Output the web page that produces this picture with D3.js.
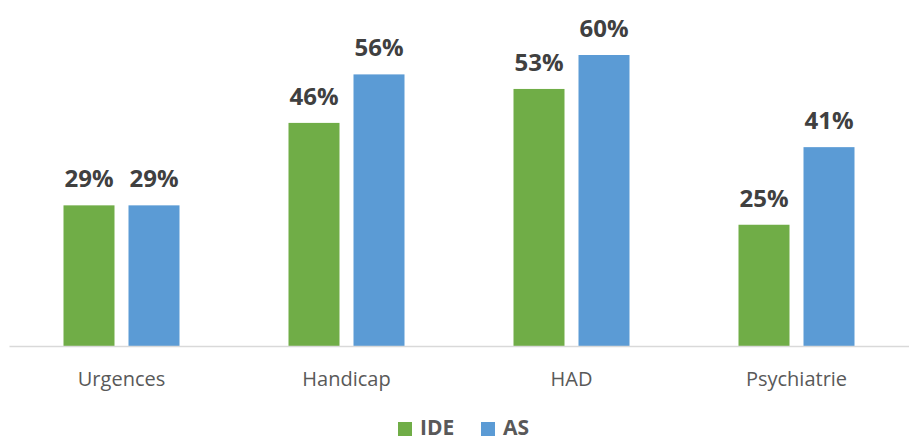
<!DOCTYPE html>
<html>
<head>
	<meta charset="utf-8">
	<title>IDE / AS</title>
	<script src="https://d3js.org/d3.v7.min.js"></script>
	<style>
		body { margin: 0; background: #fff; }
	</style>
</head>
<body>
	<div class="chart"></div>

	<script type="text/javascript">

		// données
		const categories = ['Urgences', 'Handicap', 'HAD', 'Psychiatrie']
		const series = ['IDE', 'AS']
		const ide = [29, 46, 53, 25]
		const as = [29, 56, 60, 41]

		const colors = { IDE: '#70AD47', AS: '#5B9BD5' }

		var width = 909
		var height = 441

		var svg = d3
			.select('.chart')
			.append('svg')
			.attr('width', width)
			.attr('height', height)
			.style('font-family', '"Open Sans", sans-serif')

		// table construite depuis les tableaux
		const rows = categories.map((c, i) => ({ cat: c, IDE: ide[i], AS: as[i] }))

		// échelles
		const x0 = d3.scaleBand().domain(categories).range([9, 909]).padding(0)
		const x1 = d3.scaleBand().domain(series).range([54.5, 170.5]).paddingInner(0.2154)
		const y = d3.scaleLinear().domain([0, 60]).range([346, 55])

		// barres
		const groups = svg
			.append('g')
			.selectAll('g')
			.data(rows)
			.join('g')
			.attr('transform', (d) => `translate(${x0(d.cat)},0)`)

		const cells = groups
			.selectAll('g')
			.data((d) => series.map((s) => ({ key: s, value: d[s] })))
			.join('g')

		cells
			.append('rect')
			.attr('x', (d) => x1(d.key))
			.attr('y', (d) => y(d.value))
			.attr('width', x1.bandwidth())
			.attr('height', (d) => y(0) - y(d.value))
			.attr('fill', (d) => colors[d.key])

		cells
			.append('text')
			.attr('x', (d) => x1(d.key) + x1.bandwidth() / 2)
			.attr('y', (d) => y(d.value) - 18)
			.attr('text-anchor', 'middle')
			.attr('font-size', 24)
			.attr('font-weight', 'bold')
			.attr('fill', '#404040')
			.text((d) => d.value + '%')

		// axe horizontal
		const xAxis = svg
			.append('g')
			.attr('transform', `translate(0,${y(0)})`)
			.call(d3.axisBottom(x0).tickSize(0).tickPadding(26))

		xAxis.select('.domain').attr('stroke', '#d9d9d9').attr('stroke-width', 1.5)
		xAxis
			.selectAll('text')
			.attr('font-family', '"Open Sans", sans-serif')
			.attr('font-size', 20)
			.attr('fill', '#595959')

		// légende
		const legend = svg.append('g')
		const legendX = [398, 481]
		series.forEach((s, i) => {
			legend
				.append('rect')
				.attr('x', legendX[i])
				.attr('y', 422)
				.attr('width', 14)
				.attr('height', 14)
				.attr('fill', colors[s])
			legend
				.append('text')
				.attr('x', legendX[i] + 22)
				.attr('y', 435)
				.attr('font-size', 21)
				.attr('font-weight', 'bold')
				.attr('fill', '#595959')
				.text(s)
		})

	</script>
</body>
</html>
